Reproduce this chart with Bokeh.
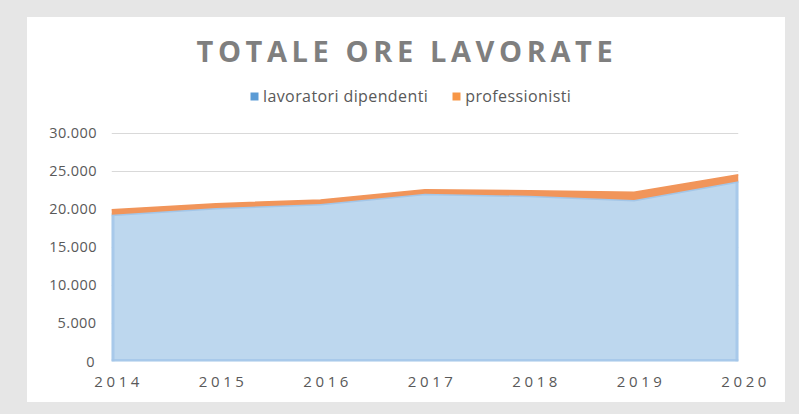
from bokeh.plotting import figure
from bokeh.layouts import column
from bokeh.models import ColumnDataSource, Legend, LegendItem, Title, FixedTicker, Range1d
from bokeh.embed import file_html
from bokeh.resources import INLINE

# ---- data ----
years = [2014, 2015, 2016, 2017, 2018, 2019, 2020]
year_labels = ["2014", "2015", "2016", "2017", "2018", "2019", "2020"]
dipendenti = [19300, 20200, 20700, 22050, 21800, 21250, 23700]
professionisti = [650, 550, 550, 550, 650, 1000, 850]
y_ticks = [0, 5000, 10000, 15000, 20000, 25000, 30000]
y_labels = ["0", "5.000", "10.000", "15.000", "20.000", "25.000", "30.000"]
series_names = ["lavoratori dipendenti", "professionisti"]
title_text = "TOTALE ORE LAVORATE"

FONT = "Open Sans"
TXT = "#595959"
GREY_BG = "#e6e6e6"
BLUE_FILL = "#bdd7ee"
BLUE_EDGE = "#a3c6e8"
BLUE_KEY = "#5b9bd5"
ORANGE = "#f1955a"
ORANGE_KEY = "#f79646"

total = [d + q for d, q in zip(dipendenti, professionisti)]
zeros = [0 for _ in years]
src = ColumnDataSource(dict(year=years, dip=dipendenti, prof=professionisti,
                            total=total, zero=zeros))
edges = ColumnDataSource(dict(x=[years[0], years[-1]], y0=[0, 0],
                              y1=[dipendenti[0], dipendenti[-1]]))

BL, BR = 84, 47          # frame borders (left / right), shared by all strips
xr = Range1d(years[0], years[-1])

# ---- title strip (separate canvas so its letter spacing can differ) ----
tp = figure(width=758, height=68, output_backend="svg", toolbar_location=None,
            x_range=(0, 1), y_range=(0, 1), x_axis_location=None,
            y_axis_location=None, min_border_left=BL, min_border_right=BR,
            min_border_top=53, min_border_bottom=0,
            styles={"letter-spacing": "4.6px"})
tp.border_fill_color = "white"
tp.background_fill_color = "white"
tp.outline_line_color = None
for g in tp.grid:
    g.visible = False
title = Title(text=title_text, align="left", vertical_align="middle",
              text_font=FONT, text_font_size="29px", text_font_style="bold",
              text_color="#7f7f7f", standoff=0, offset=85)
tp.add_layout(title, "above")

# ---- main chart ----
# y range extends above the top tick so that the legend sits inside the frame
Y_TOP = 36300

p = figure(width=758, height=284, output_backend="svg", toolbar_location=None,
           x_range=xr, y_range=(y_ticks[0], Y_TOP), x_axis_location=None,
           min_border_left=BL, min_border_right=BR, min_border_top=0,
           min_border_bottom=8, styles={"letter-spacing": "0.4px"})
p.border_fill_color = "white"
p.background_fill_color = "white"
p.outline_line_color = None

for g in p.xgrid:
    g.grid_line_color = None
p.ygrid.grid_line_color = "#d9d9d9"
p.ygrid.grid_line_width = 1
p.ygrid.ticker = FixedTicker(ticks=y_ticks)

# areas
p.varea(x="year", y1="zero", y2="dip", source=src, fill_color=BLUE_FILL)
p.segment(x0="x", y0="y0", x1="x", y1="y1", source=edges,
          line_color=BLUE_EDGE, line_width=6, line_alpha=0.8)
p.line(x="year", y="zero", source=src, line_color=BLUE_EDGE, line_width=5,
       line_alpha=0.8)
p.line(x="year", y="dip", source=src, line_color=BLUE_EDGE, line_width=3)
p.varea(x="year", y1="dip", y2="total", source=src, fill_color=ORANGE)
p.line(x="year", y="total", source=src, line_color=ORANGE, line_width=1.5)

# legend keys (zero-height areas, only used for the legend swatches)
k1 = p.varea(x="year", y1="zero", y2="zero", source=src, fill_color=BLUE_KEY)
k2 = p.varea(x="year", y1="zero", y2="zero", source=src, fill_color=ORANGE_KEY)

p.yaxis.ticker = FixedTicker(ticks=y_ticks)
p.yaxis.major_label_overrides = {t: l for t, l in zip(y_ticks, y_labels)}
p.yaxis.axis_line_color = None
p.yaxis.major_tick_line_color = None
p.yaxis.minor_tick_line_color = None
p.yaxis.major_label_text_font = FONT
p.yaxis.major_label_text_color = TXT
p.yaxis.major_label_text_font_size = "14.5px"
p.yaxis.major_label_standoff = 11

legend = Legend(items=[LegendItem(label=series_names[0], renderers=[k1]),
                       LegendItem(label=series_names[1], renderers=[k2])],
                orientation="horizontal", location=(138, 254),
                glyph_width=10, glyph_height=10, label_standoff=4, spacing=23,
                padding=3, margin=0, border_line_color=None,
                background_fill_alpha=0,
                label_text_font=FONT, label_text_font_size="16px",
                label_text_color=TXT)
p.add_layout(legend)

# ---- x axis strip (letter-spaced year labels) ----
xp = figure(width=758, height=33, output_backend="svg", toolbar_location=None,
            x_range=xr, y_range=(0, 1), y_axis_location=None,
            min_border_left=BL, min_border_right=BR, min_border_top=0,
            min_border_bottom=32, styles={"letter-spacing": "3.6px"})
xp.border_fill_color = "white"
xp.background_fill_color = "white"
xp.outline_line_color = None
for g in xp.grid:
    g.visible = False
xp.xaxis.ticker = FixedTicker(ticks=years)
xp.xaxis.major_label_overrides = {y: l for y, l in zip(years, year_labels)}
xp.xaxis.axis_line_color = None
xp.xaxis.major_tick_line_color = None
xp.xaxis.minor_tick_line_color = None
xp.xaxis.major_label_text_font = FONT
xp.xaxis.major_label_text_color = TXT
xp.xaxis.major_label_text_font_size = "15px"
xp.xaxis.major_label_standoff = 0

inner = column(tp, p, xp, spacing=0, styles={"background-color": "white"})
layout = column(inner, spacing=0,
                styles={"background-color": GREY_BG,
                        "padding": "17px 14px 12px 27px"})

open("out.html", "w").write(file_html(layout, INLINE))
